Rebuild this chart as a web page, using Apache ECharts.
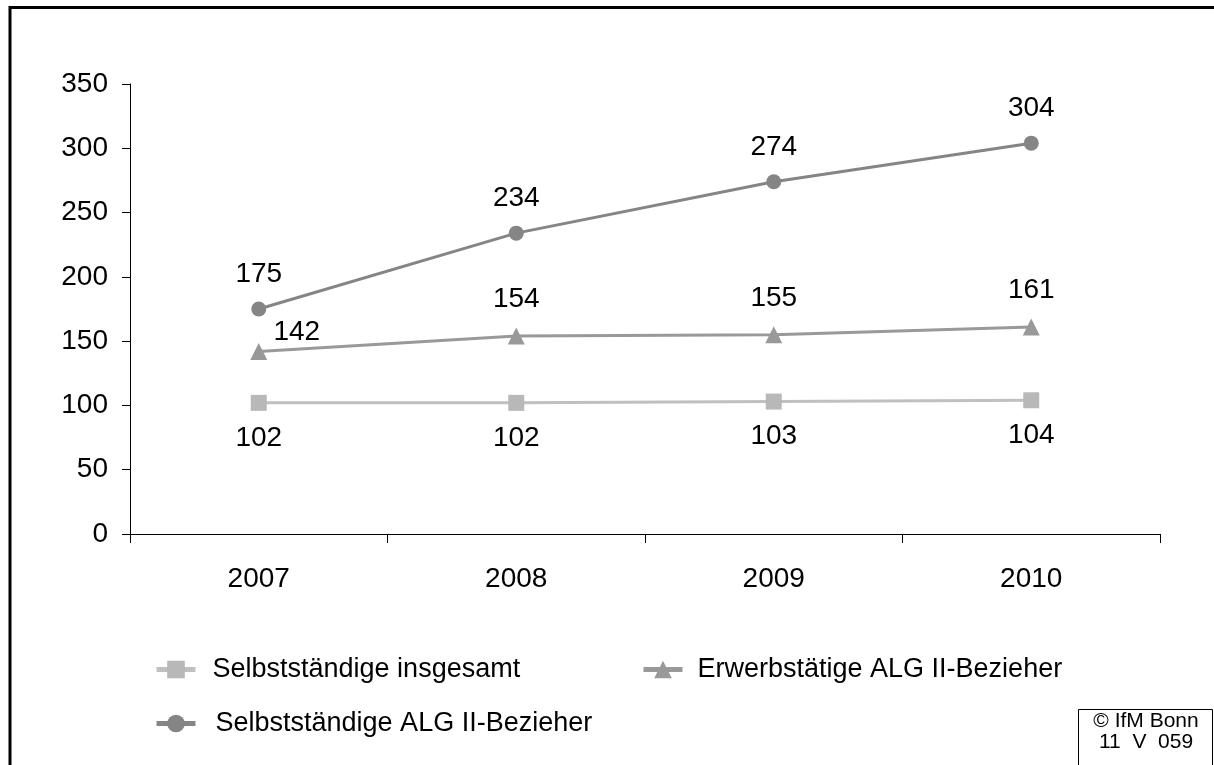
<!DOCTYPE html>
<html>
<head>
<meta charset="utf-8">
<script src="https://cdn.jsdelivr.net/npm/echarts@6/dist/echarts.min.js"></script>
<style>html,body{margin:0;padding:0;background:#fff}#c{width:1214px;height:765px}</style>
</head>
<body>
<div id="c"></div>
<script>
const years = ['2007', '2008', '2009', '2010'];
const insgesamt = [102, 102, 103, 104];
const erwerbstaetige = [142, 154, 155, 161];
const selbstALG = [175, 234, 274, 304];
const yTicks = [0, 50, 100, 150, 200, 250, 300, 350];
const names = ['Selbstständige insgesamt', 'Erwerbstätige ALG II-Bezieher', 'Selbstständige ALG II-Bezieher'];

const FONT = '"Liberation Sans", Arial, sans-serif';
const FS = 28;
const LFS = 27;
const chart = echarts.init(document.getElementById('c'));

function legendAt(name, left, top, textPad) {
  return {
    data: [name], left: left, top: top, orient: 'horizontal',
    itemWidth: 39, itemHeight: 22, padding: 0, selectedMode: false,
    lineStyle: {width: 5},
    textStyle: {fontFamily: FONT, fontSize: LFS, color: '#000', padding: [0, 0, 0, textPad]}
  };
}

chart.setOption({
  animation: false,
  backgroundColor: '#fff',
  grid: {left: 130, right: 54, top: 84, bottom: 231},
  xAxis: {
    type: 'category', data: years, boundaryGap: true,
    axisLine: {lineStyle: {color: '#000', width: 1}},
    axisTick: {show: true, inside: false, length: 9, lineStyle: {color: '#000'}},
    axisLabel: {fontFamily: FONT, fontSize: FS, color: '#000', margin: 31}
  },
  yAxis: {
    type: 'value', min: yTicks[0], max: yTicks[yTicks.length - 1], interval: 50,
    axisLine: {show: true, lineStyle: {color: '#000', width: 1}},
    axisTick: {show: true, length: 8, lineStyle: {color: '#000'}},
    splitLine: {show: false},
    axisLabel: {fontFamily: FONT, fontSize: FS, color: '#000', margin: 22}
  },
  legend: [
    legendAt(names[0], 154, 656, 12),
    legendAt(names[1], 641, 656, 10),
    legendAt(names[2], 154, 710, 15)
  ],
  series: [
    {
      name: names[0], type: 'line', data: insgesamt,
      symbol: 'rect', symbolSize: 16,
      lineStyle: {color: '#c0c0c0', width: 3}, itemStyle: {color: '#b8b8b8'},
      label: {show: true, position: 'bottom', distance: 13, fontFamily: FONT, fontSize: FS, color: '#000'}
    },
    {
      name: names[1], type: 'line',
      data: erwerbstaetige.map((v, i) => i === 0
        ? {value: v, label: {position: 'top', distance: 0, offset: [38, 3]}}
        : v),
      symbol: 'triangle', symbolSize: 17,
      lineStyle: {color: '#999999', width: 3}, itemStyle: {color: '#999999'},
      label: {show: true, position: 'top', distance: 14, fontFamily: FONT, fontSize: FS, color: '#000'}
    },
    {
      name: names[2], type: 'line', data: selbstALG,
      symbol: 'circle', symbolSize: 15,
      lineStyle: {color: '#858585', width: 3}, itemStyle: {color: '#858585'},
      label: {show: true, position: 'top', distance: 13, fontFamily: FONT, fontSize: FS, color: '#000'}
    }
  ],
  graphic: [
    {type: 'rect', shape: {x: 10, y: 7.5, width: 1400, height: 1000},
     style: {fill: 'none', stroke: '#000', lineWidth: 3}, silent: true},
    {type: 'rect', shape: {x: 1078.5, y: 709.5, width: 134, height: 100},
     style: {fill: '#fff', stroke: '#000', lineWidth: 1}, silent: true},
    {type: 'text', x: 1146, y: 721,
     style: {text: '© IfM Bonn', fontFamily: FONT, fontSize: 21, fill: '#000', align: 'center', verticalAlign: 'middle'}},
    {type: 'text', x: 1146, y: 742,
     style: {text: '11  V  059', fontFamily: FONT, fontSize: 21, fill: '#000', align: 'center', verticalAlign: 'middle'}}
  ]
});
</script>
</body>
</html>
